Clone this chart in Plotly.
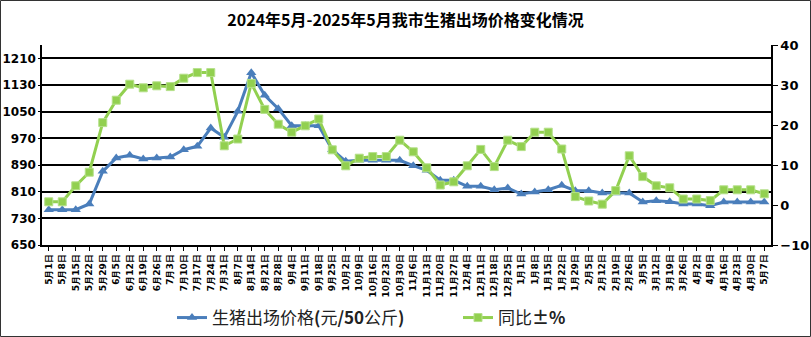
import plotly.graph_objects as go

categories = ["5月1日","5月8日","5月15日","5月22日","5月29日","6月5日","6月12日","6月19日","6月26日",
              "7月3日","7月10日","7月17日","7月24日","7月31日","8月7日","8月14日","8月21日","8月28日",
              "9月4日","9月11日","9月18日","9月25日","10月2日","10月9日","10月16日","10月23日","10月30日",
              "11月6日","11月13日","11月20日","11月27日","12月4日","12月11日","12月18日","12月25日",
              "1月1日","1月8日","1月15日","1月22日","1月29日","2月5日","2月12日","2月19日","2月26日",
              "3月5日","3月12日","3月19日","3月26日","4月2日","4月9日","4月16日","4月23日","4月30日","5月7日"]

price = [756, 756, 756, 773, 871, 911, 919, 908, 911, 914, 936, 946, 1001, 973, 1051, 1167, 1099, 1059,
         1008, 1008, 1008, 936, 901, 904, 904, 904, 904, 888, 874, 844, 844, 826, 826, 816, 821, 803,
         809, 816, 829, 813, 813, 806, 806, 806, 779, 783, 780, 773, 773, 768, 779, 779, 779, 779]

yoy = [0.8, 0.8, 4.8, 8.2, 20.6, 26.2, 30.2, 29.3, 29.8, 29.6, 31.7, 33.1, 33.1, 14.8, 16.5, 30.4, 23.9,
       20.2, 18.2, 19.8, 21.5, 13.8, 9.8, 11.7, 12.1, 12.1, 16.2, 13.3, 9.3, 5.0, 5.8, 9.8, 13.9, 9.6,
       16.2, 14.6, 18.2, 18.2, 14.0, 2.1, 1.0, 0.2, 3.6, 12.3, 7.1, 4.8, 4.3, 1.5, 1.5, 1.1, 3.8, 3.8,
       3.8, 2.8]

left_ticks = [650, 730, 810, 890, 970, 1050, 1130, 1210]
right_ticks = [-10, 0, 10, 20, 30, 40]

BLUE = "#4A7EBB"
GREEN = "#92D050"

fig = go.Figure()
fig.add_trace(go.Scatter(
    x=categories, y=price, name="生猪出场价格<b>(</b>元<b>/50</b>公斤<b>)</b>", mode="lines+markers",
    line=dict(color=BLUE, width=3),
    marker=dict(symbol="triangle-up", size=9, color=BLUE),
    yaxis="y"))
fig.add_trace(go.Scatter(
    x=categories, y=yoy, name="同比<b>±%</b>", mode="lines+markers",
    line=dict(color=GREEN, width=3),
    marker=dict(symbol="square", size=8, color=GREEN, line=dict(color="#B5E08A", width=1)),
    yaxis="y2"))

W, H = 811, 337
L, R, T, B = 42, 40, 45, 92
pw, ph = W - L - R, H - T - B

fig.update_layout(
    width=W, height=H,
    margin=dict(l=L, r=R, t=T, b=B, autoexpand=False),
    paper_bgcolor="white", plot_bgcolor="white",
    font=dict(family="DejaVu Sans", color="black"),
    title=dict(text="2024年5月-2025年5月我市生猪出场价格变化情况",
               x=0.5, xanchor="center", y=1 - 20 / H, yanchor="middle",
               font=dict(family="Noto Sans CJK SC", size=16, color="black", weight="bold")),
    showlegend=True,
    legend=dict(orientation="h", x=(172 - L) / pw, xanchor="left", y=-(318 - T - ph) / ph, yanchor="middle",
                font=dict(family="Noto Sans CJK SC", size=17, color="#222"),
                itemwidth=30, entrywidth=241, tracegroupgap=0),
    xaxis=dict(type="category", tickangle=-90, automargin=False,
               tickfont=dict(family="DejaVu Sans", size=9, weight="bold", color="black"),
               showline=True, linecolor="black", linewidth=1.5,
               ticks="outside", ticklen=4, tickcolor="black",
               showgrid=False, range=[-0.5, len(categories) - 0.5]),
    yaxis=dict(range=[650, 1250], tickvals=left_ticks, automargin=False,
               tickfont=dict(family="DejaVu Sans", size=12, weight="bold", color="black"),
               showline=True, linecolor="black", linewidth=1.5,
               ticks="outside", ticklen=2, tickcolor="black",
               showgrid=True, gridcolor="black", gridwidth=1.5, zeroline=False),
    yaxis2=dict(range=[-10, 40], tickvals=right_ticks, overlaying="y", side="right", automargin=False,
                tickfont=dict(family="DejaVu Sans", size=13, weight="bold", color="black"),
                showline=True, linecolor="black", linewidth=1.5,
                ticks="outside", ticklen=5, tickcolor="black",
                showgrid=False, zeroline=False),
)

# outer border of the chart
fig.add_shape(type="rect", xref="paper", yref="paper",
              x0=-(L - 0.5) / pw, x1=(W - L - 0.5) / pw,
              y0=-(B - 0.5) / ph, y1=(H - B - 0.5) / ph,
              line=dict(color="#333", width=1), fillcolor="rgba(0,0,0,0)", layer="above")

fig.write_html("out.html")
